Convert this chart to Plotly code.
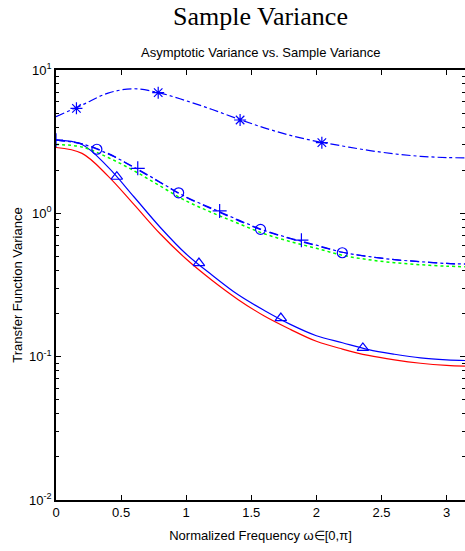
import numpy as np
import plotly.graph_objects as go

# frequency grid (rad)
w = [0, 0.2, 0.4, 0.6, 0.8, 1.0, 1.2, 1.4, 1.6, 1.8, 2.0, 2.2, 2.4, 2.6, 2.8, 3.0, 3.14159]

asym_red = [2.88, 2.62, 1.82, 1.15, 0.72, 0.48, 0.34, 0.25, 0.192, 0.155, 0.128, 0.113, 0.102, 0.095, 0.090, 0.087, 0.086]
asym_blue = [3.24, 3.02, 2.10, 1.30, 0.80, 0.52, 0.37, 0.27, 0.21, 0.168, 0.140, 0.125, 0.112, 0.104, 0.098, 0.095, 0.094]
samp_green = [3.02, 2.90, 2.45, 1.98, 1.55, 1.22, 1.01, 0.85, 0.72, 0.635, 0.57, 0.51, 0.475, 0.452, 0.438, 0.428, 0.424]
samp_circ = [3.24, 3.05, 2.60, 2.10, 1.65, 1.30, 1.08, 0.90, 0.76, 0.67, 0.60, 0.535, 0.50, 0.475, 0.46, 0.447, 0.443]
samp_plus = [3.24, 3.06, 2.62, 2.08, 1.64, 1.29, 1.07, 0.89, 0.755, 0.665, 0.595, 0.535, 0.50, 0.475, 0.46, 0.447, 0.443]
samp_star = [4.72, 5.70, 6.90, 7.40, 6.90, 6.10, 5.30, 4.55, 3.95, 3.50, 3.18, 2.95, 2.75, 2.60, 2.50, 2.45, 2.44]

# marker positions
tri_x = [0.467, 1.098, 1.727, 2.357]
tri_y = [1.80, 0.45, 0.186, 0.115]
circ_x = [0.314, 0.942, 1.571, 2.199]
circ_y = [2.80, 1.39, 0.773, 0.531]
plus_x = [0.0, 0.628, 1.257, 1.885]
plus_y = [3.24, 2.06, 1.04, 0.65]
star_x = [0.157, 0.785, 1.414, 2.042]
star_y = [5.40, 6.95, 4.48, 3.11]

xticks = [0, 0.5, 1, 1.5, 2, 2.5, 3]
yticks = [0.01, 0.1, 1, 10]
ytext = ["10<sup>-2</sup>", "10<sup>-1</sup>", "10<sup>0</sup>", "10<sup>1</sup>"]
yminor = [m * d for d in (0.01, 0.1, 1) for m in range(2, 10)]

BLUE = "#0000ff"
RED = "#ff0000"
GREEN = "#00ff00"

fig = go.Figure()
def line(y, color, dash, width=1.2):
    fig.add_trace(go.Scatter(x=w, y=y, mode="lines", line=dict(color=color, dash=dash, width=width, shape="spline"),
                             showlegend=False, hoverinfo="skip"))
def marks(x, y, sym):
    fig.add_trace(go.Scatter(x=x, y=y, mode="markers",
                             marker=dict(symbol=sym, size=10, color=BLUE, line=dict(color=BLUE, width=1.2)),
                             showlegend=False, hoverinfo="skip"))

line(asym_red, RED, "solid")
line(asym_blue, BLUE, "solid")
line(samp_green, GREEN, "dot", 1.5)
line(samp_circ, BLUE, "dashdot")
line(samp_plus, BLUE, "dash")
line(samp_star, BLUE, "dashdot")
marks(tri_x, tri_y, "triangle-up-open")
marks(circ_x, circ_y, "circle-open")
marks(plus_x, plus_y, "cross-thin-open")
marks(star_x, star_y, "asterisk-open")

SANS = "Liberation Sans, Arial, sans-serif"
axis_font = dict(family=SANS, size=13, color="black")
fig.update_layout(
    width=465, height=551,
    margin=dict(l=56, r=0, t=70, b=51, autoexpand=False),
    paper_bgcolor="white", plot_bgcolor="white",
    font=axis_font,
    xaxis=dict(range=[0, 3.14159], tickvals=xticks, ticktext=[str(t) for t in xticks],
               ticks="inside", ticklen=5, tickcolor="black", showline=True, linecolor="black", linewidth=1.5,
               mirror="ticks", showgrid=False, zeroline=False, tickfont=axis_font, automargin=False,
               title=dict(text="Normalized Frequency ω∈[0,π]", font=dict(family=SANS, size=13), standoff=12)),
    yaxis=dict(type="log", range=[-2, 1], tickvals=yticks, ticktext=ytext,
               ticks="inside", ticklen=5, tickcolor="black", showline=True, linecolor="black", linewidth=1.5,
               mirror="ticks", showgrid=False, zeroline=False, tickfont=axis_font, automargin=False,
               minor=dict(ticks="inside", ticklen=3, tickcolor="black", showgrid=False,
                          tickmode="array", tickvals=yminor),
               title=dict(text="Transfer Function Variance", font=dict(family=SANS, size=13), standoff=4)),
    annotations=[
        dict(text="Sample Variance", x=0.5, xref="paper", y=1 + (70 - 16) / 430, yref="paper",
             yanchor="middle", showarrow=False,
             font=dict(family="Liberation Serif, Times New Roman, serif", size=26, color="black")),
        dict(text="Asymptotic Variance vs. Sample Variance", x=0.5, xref="paper", y=1.0, yref="paper",
             yanchor="bottom", yshift=8, showarrow=False,
             font=dict(family=SANS, size=13, color="black")),
    ],
)
fig.write_html("out.html", config={"displayModeBar": False},
               post_script="document.body.style.margin='0';document.body.style.overflow='hidden';")
